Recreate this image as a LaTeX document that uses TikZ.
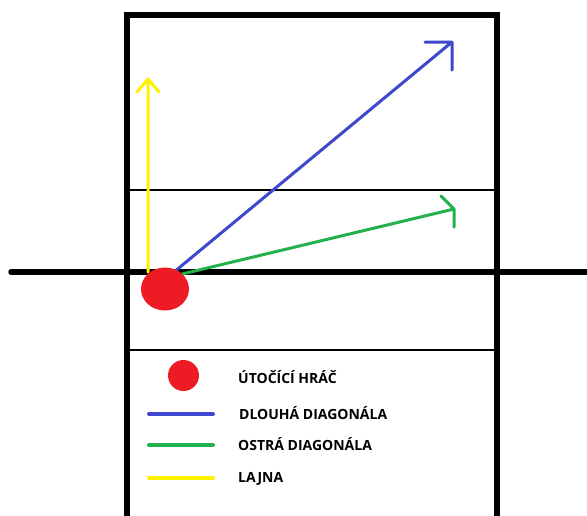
\documentclass[tikz,border=0pt]{standalone}
\usepackage{fontspec}
\setmainfont{Open Sans}
\usetikzlibrary{shapes.geometric}
\definecolor{pred}{RGB}{237,28,36}
\definecolor{pblue}{RGB}{63,72,204}
\definecolor{pgreen}{RGB}{34,177,76}
\definecolor{pyellow}{RGB}{255,242,0}
\begin{document}
\begin{tikzpicture}[x=1pt,y=-1pt,
  thick line/.style={line width=5.5pt,black},
  thin line/.style={line width=2.5pt,black},
  shot/.style={line width=3pt,line cap=round,line join=round},
  key/.style={line width=4pt,line cap=round},
  keytext/.style={anchor=west,inner sep=0pt,font=\fontsize{14}{16}\selectfont\bfseries},
  player/.style={ellipse,fill=pred,inner sep=0pt}]
\useasboundingbox (0,0) rectangle (587,515);
% court
\draw[thick line] (127,517) -- (127,15) -- (497,15) -- (497,517);
\draw[thin line] (127,190) -- (497,190);
\draw[thin line] (127,350) -- (497,350);
\draw[thick line,line cap=round] (11,272) -- (587,272);
% shot coordinates
\coordinate (ys) at (148,272);
\coordinate (yt) at (148,79);
\coordinate (bs) at (174,272);
\coordinate (bt) at (452,42);
\coordinate (gs) at (178,275);
\coordinate (gt) at (454,209);
% shots
\draw[shot,pyellow] (ys) -- (yt) (137,92) -- (yt) -- (159,92);
\draw[shot,pblue] (bs) -- (bt) (425,42) -- (bt) -- (452,70);
\draw[shot,pgreen] (gs) -- (gt) (441,196) -- (gt) -- (454,227);
% player
\node[player,minimum width=48pt,minimum height=43pt] (p) at (165,289) {};
% legend
\node[player,minimum width=31pt,minimum height=31pt] (lp) at (183.5,375.5) {};
\node[keytext] (t1) at (238,377) {ÚTOČÍCÍ HRÁČ};
\coordinate (b1) at (149,414); \coordinate (b2) at (213,414);
\draw[key,pblue] (b1) -- (b2);
\node[keytext] (t2) at (239,413) {DLOUHÁ DIAGONÁLA};
\coordinate (g1) at (149,445); \coordinate (g2) at (213,445);
\draw[key,pgreen] (g1) -- (g2);
\node[keytext] (t3) at (238,444) {OSTRÁ DIAGONÁLA};
\coordinate (y1) at (149,478); \coordinate (y2) at (213,478);
\draw[key,pyellow] (y1) -- (y2);
\node[keytext] (t4) at (238,479) {LAJNA};
\end{tikzpicture}
\end{document}
